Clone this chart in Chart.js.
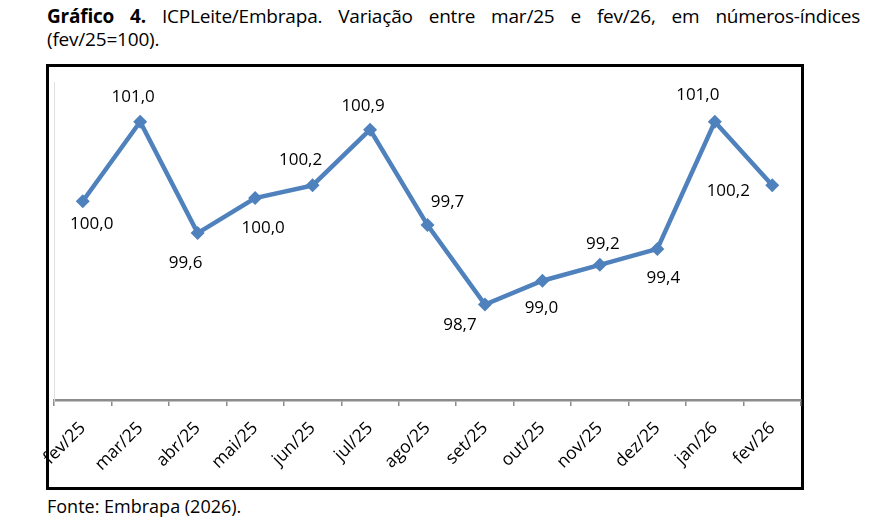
<!DOCTYPE html>
<html>
<head>
<meta charset="utf-8">
<script src="https://cdn.jsdelivr.net/npm/chart.js@4"></script>
<style>
  body { margin: 0; background: #fff; font-family: "Open Sans", sans-serif; color: #000; }
  #titulo { position: absolute; left: 47px; top: 5px; width: 813px; font-size: 19px; line-height: 23px; letter-spacing: -0.2px; }
  #titulo .l1 { text-align: justify; text-align-last: justify; white-space: nowrap; }
  #caixa { position: absolute; left: 46px; top: 64px; width: 758px; height: 426px; box-sizing: border-box; border: 3px solid #000; }
  #lineChart { position: absolute; left: 29px; top: 67px; display: block; }
  #fonte { position: absolute; left: 47px; top: 494px; font-size: 18px; }
</style>
</head>
<body>
<div id="titulo">
  <div class="l1"><b>Gráfico 4.</b> ICPLeite/Embrapa. Variação entre mar/25 e fev/26, em números-índices</div>
  <div>(fev/25=100).</div>
</div>
<div id="caixa"></div>
<canvas id="lineChart" width="773" height="420"></canvas>
<div id="fonte">Fonte: Embrapa (2026).</div>
<script>
const meses = ['fev/25', 'mar/25', 'abr/25', 'mai/25', 'jun/25', 'jul/25', 'ago/25',
    'set/25', 'out/25', 'nov/25', 'dez/25', 'jan/26', 'fev/26'];
const indice = [100.0, 101.0, 99.6, 100.04, 100.2, 100.9, 99.7, 98.7, 99.0, 99.2, 99.4, 101.0, 100.2];

// deslocamento de cada rótulo em relação ao ponto (px)
const desloc = [[9, 23], [-7, -25], [-12, 30], [8, 30], [-12, -25], [-7, -24], [20, -23],
    [-25, 21], [-1, 27], [3, -21], [6, 29], [-17, -27], [-44, 6]];

const rotulos = {
    id: 'rotulos',
    afterDatasetsDraw(chart) {
        const ctx = chart.ctx;
        const pts = chart.getDatasetMeta(0).data;
        ctx.save();
        ctx.font = '17px "Open Sans"';
        ctx.fillStyle = '#000';
        ctx.textAlign = 'center';
        ctx.textBaseline = 'middle';
        pts.forEach((p, i) => {
            let txt = indice[i].toFixed(1).replace('.', ',');
            ctx.fillText(txt, p.x + desloc[i][0], p.y + desloc[i][1]);
        });
        ctx.restore();
    }
};

new Chart(document.getElementById('lineChart'), {
    type: 'line',
    data: {
        labels: meses,
        datasets: [{
            data: indice,
            borderColor: '#4F81BD',
            backgroundColor: '#4F81BD',
            borderWidth: 4.5,
            pointStyle: 'rectRot',
            pointRadius: 7,
            pointBorderWidth: 0,
            tension: 0
        }]
    },
    options: {
        responsive: false,
        animation: false,
        layout: { autoPadding: false, padding: { left: 25, top: 15, right: 1, bottom: 0 } },
        plugins: { legend: { display: false }, tooltip: { enabled: false } },
        scales: {
            x: {
                offset: true,
                afterFit: s => { s.height = 87; s.paddingLeft = 0; s.paddingRight = 0; },
                grid: { offset: true, drawOnChartArea: false, tickLength: 6, color: '#8c8c8c', lineWidth: 1.5 },
                border: { color: '#8c8c8c', width: 2.5 },
                ticks: {
                    color: '#000', minRotation: 45, maxRotation: 45, padding: 12,
                    font: { family: 'Open Sans', size: 17.5 }
                }
            },
            y: {
                min: 97.5,
                max: 101.5,
                afterFit: s => { s.width = 0; },
                grid: { display: false },
                border: { color: '#e0e0e0', width: 1 },
                ticks: { display: false }
            }
        }
    },
    plugins: [rotulos]
});
</script>
</body>
</html>
